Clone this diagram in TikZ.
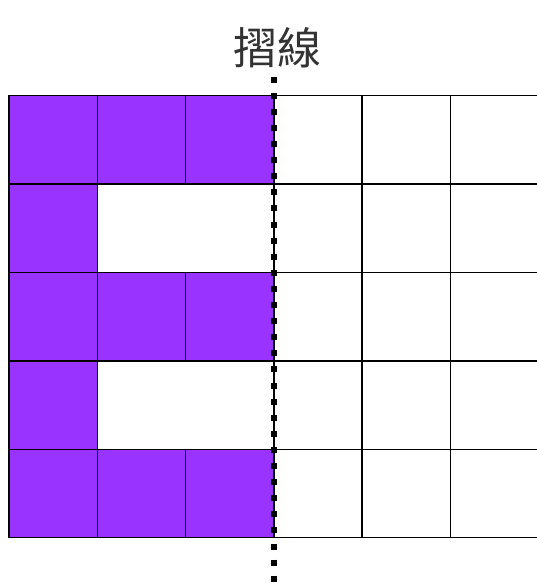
\documentclass[tikz,border=0pt]{standalone}
\usepackage{fontspec}
\newfontfamily\cjk{Noto Sans CJK TC}
\definecolor{fillp}{HTML}{9933FF}
\definecolor{titlec}{HTML}{333333}
\begin{document}
\begin{tikzpicture}[x=1pt,y=-1pt,
  cellp/.style={fill=fillp,draw=black,line width=1.5pt},
  cellw/.style={fill=white,draw=black,line width=1.5pt},
  foldline/.style={line width=6pt,dash pattern=on 6pt off 10.1pt}]
\useasboundingbox (0,0) rectangle (537,583);
\def\cw{88.25}
\def\ch{88.4}
\def\xo{9}
\def\yo{95.7}
% purple cells (rows 1,3,5 full; rows 2,4 first column)
\foreach \r in {0,2,4}{
  \foreach \c in {0,1,2}{
    \draw[cellp] (\xo+\c*\cw,\yo+\r*\ch) rectangle ++(\cw,\ch);
  }
}
\foreach \r in {1,3}{
  \draw[cellp] (\xo,\yo+\r*\ch) rectangle ++(\cw,\ch);
  \draw[cellw] (\xo+\cw,\yo+\r*\ch) rectangle ++(2*\cw,\ch);
}
% right white grid
\foreach \r in {0,...,4}{
  \foreach \c in {3,4,5}{
    \draw[cellw] (\xo+\c*\cw,\yo+\r*\ch) rectangle ++(\cw,\ch);
  }
}
% fold line
\coordinate (ftop) at (\xo+3*\cw,76.6);
\coordinate (fbot) at (\xo+3*\cw,590);
\draw[foldline] (ftop) -- (fbot);
\node[font=\cjk\fontsize{44}{48}\selectfont,text=titlec] (title) at (277,48) {摺線};
\end{tikzpicture}
\end{document}
